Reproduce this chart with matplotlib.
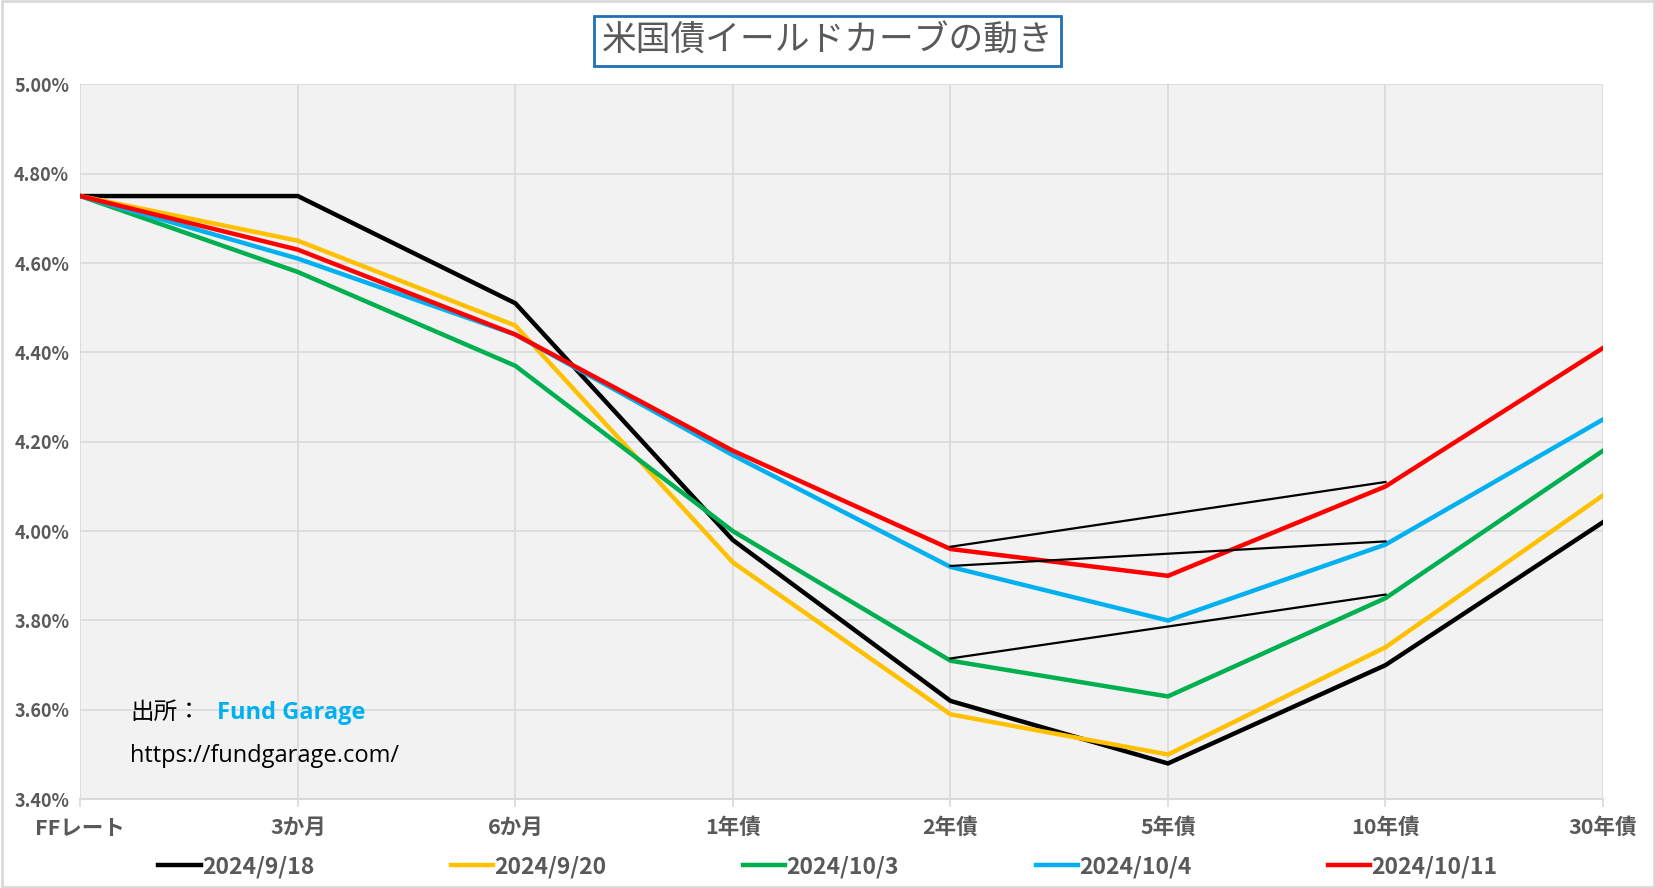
import matplotlib
matplotlib.use("Agg")
import matplotlib.pyplot as plt
from matplotlib.patches import Rectangle

plt.rcParams['font.family'] = ['Noto Sans CJK JP', 'DejaVu Sans']

categories = ['FFレート', '3か月', '6か月', '1年債', '2年債', '5年債', '10年債', '30年債']
dates = ['2024/9/18', '2024/9/20', '2024/10/3', '2024/10/4', '2024/10/11']
y_0918 = [4.75, 4.75, 4.51, 3.98, 3.62, 3.48, 3.70, 4.02]
y_0920 = [4.75, 4.65, 4.46, 3.93, 3.59, 3.50, 3.74, 4.08]
y_1003 = [4.75, 4.58, 4.37, 4.00, 3.71, 3.63, 3.85, 4.18]
y_1004 = [4.75, 4.61, 4.44, 4.17, 3.92, 3.80, 3.97, 4.25]
y_1011 = [4.75, 4.63, 4.44, 4.18, 3.96, 3.90, 4.10, 4.41]
series = [y_0918, y_0920, y_1003, y_1004, y_1011]
colors = ['#000000', '#FFC000', '#00B050', '#00B0F0', '#FF0000']

# thin reference lines from 2年債 to 10年債
thin_start = [3.965, 3.922, 3.715]
thin_end = [4.11, 3.977, 3.858]

yticks = [3.40, 3.60, 3.80, 4.00, 4.20, 4.40, 4.60, 4.80, 5.00]

fig = plt.figure(figsize=(16.56, 8.88), dpi=100)
fig.patch.set_facecolor('white')
ax = fig.add_axes([0.0485, 0.100, 0.9195, 0.805])
ax.set_facecolor('#F2F2F2')

x = list(range(len(categories)))
for vals, c, lab in zip(series, colors, dates):
    ax.plot(x, vals, color=c, lw=3.2, label=lab, solid_joinstyle='miter', zorder=3)

i2 = categories.index('2年債')
i10 = categories.index('10年債')
for s, e in zip(thin_start, thin_end):
    ax.plot([i2, i10], [s, e], color='black', lw=1.6, zorder=4)

ax.set_xlim(0, len(categories) - 1)
ax.set_ylim(3.40, 5.00)
ax.set_yticks(yticks)
ax.set_yticklabels([f'{v:.2f}%' for v in yticks])
ax.set_xticks(x)
ax.set_xticklabels(categories)
ax.grid(True, color='#D9D9D9', lw=1.2, zorder=0)
ax.set_axisbelow(True)
for sp in ['top', 'right', 'left']:
    ax.spines[sp].set_visible(False)
ax.spines['bottom'].set_color('#D9D9D9')
ax.spines['bottom'].set_linewidth(1.5)
ax.tick_params(axis='y', length=0, pad=8, labelsize=13, labelcolor='#595959')
ax.tick_params(axis='x', length=6, color='#D9D9D9', width=1.2, pad=7, labelsize=15.5, labelcolor='#595959')
for t in ax.get_xticklabels() + ax.get_yticklabels():
    t.set_fontweight('bold')

# source annotation
ax.text(0.0326, 0.121, '出所：', transform=ax.transAxes, fontsize=17, color='black', va='center')
ax.text(0.0895, 0.121, 'Fund Garage', transform=ax.transAxes, fontsize=17, color='#00B0F0',
        fontweight='bold', va='center', family=['Open Sans', 'DejaVu Sans'])
ax.text(0.0326, 0.0606, 'https://fundgarage.com/', transform=ax.transAxes, fontsize=17,
        color='black', va='center', family=['Open Sans', 'DejaVu Sans'])

# title
fig.text(0.4995, 0.954, '米国債イールドカーブの動き', fontsize=25, color='#595959',
         ha='center', va='center',
         bbox=dict(boxstyle='square,pad=0.22', facecolor='white', edgecolor='#1F6FB4', lw=2))

leg = fig.legend(loc='center', bbox_to_anchor=(0.5, 0.024), ncol=5, frameon=False,
                 handlelength=1.85, handletextpad=0.05, columnspacing=5.96,
                 prop=dict(size=16.5, weight='bold'))
for t in leg.get_texts():
    t.set_color('#595959')

fig.patches.append(Rectangle((0.001, 0.001), 0.998, 0.998, transform=fig.transFigure,
                             fill=False, edgecolor='#D9D9D9', lw=2))

fig.savefig('out.png', dpi=100)
